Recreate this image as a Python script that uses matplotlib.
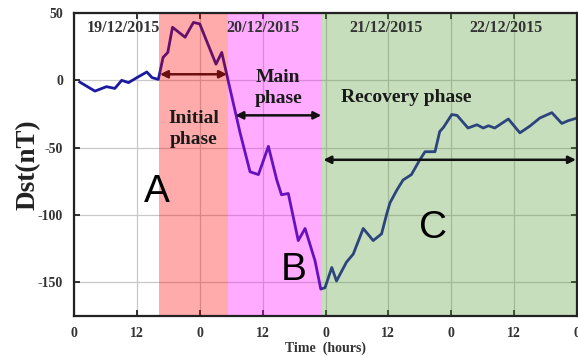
"""
Dst index during the 19-22 December 2015 geomagnetic storm,
with the initial / main / recovery phases shaded.
"""

import matplotlib
matplotlib.use("Agg")
import matplotlib.pyplot as plt

plt.rcParams["axes.unicode_minus"] = False

# ---------------------------------------------------------------------------
# Data (hours from 00 UT on 19/12/2015, Dst in nT)
# ---------------------------------------------------------------------------
hours = [1.1, 4.0, 6.2, 7.8, 9.1, 10.4, 12.0, 13.9, 14.9, 16.1,
         17.0, 17.9, 18.8, 21.2, 22.8, 24.0, 27.1, 28.2, 29.8, 31.7,
         33.6, 35.2, 37.1, 38.7, 39.6, 40.9, 42.8, 44.1, 46.0, 47.1,
         47.9, 49.2, 50.1, 52.0, 53.3, 55.2, 57.1, 58.7, 59.7, 60.3,
         61.6, 62.8, 64.4, 66.0, 67.0, 68.9, 69.8, 70.5, 72.1, 73.1,
         75.2, 76.9, 78.1, 79.1, 80.3, 82.9, 85.1, 87.0, 88.9, 91.2,
         93.1, 94.3, 96.0]
dst = [-1.3, -8.0, -4.7, -6.0, 0.0, -1.7, 2.0, 6.2, 2.0, 0.7,
       17.0, 20.7, 39.4, 32.0, 43.0, 41.9, 12.0, 20.7, -6.7, -39.0,
       -67.9, -70.0, -49.0, -74.0, -85.0, -84.0, -119.0, -110.0, -134.0, -155.0,
       -154.0, -139.0, -149.0, -135.0, -129.0, -110.0, -119.0, -114.0, -99.0, -91.0,
       -81.6, -74.0, -70.0, -59.0, -53.0, -53.0, -38.0, -35.0, -25.4, -26.0,
       -35.4, -33.0, -35.4, -33.7, -35.4, -28.7, -39.0, -34.0, -28.0, -24.0,
       -32.0, -30.0, -28.0]

# phase boundaries (hours)
phase_edges = [16.2, 29.4, 47.4, 96.0]
phase_colors = ["#ff0000", "#ff00ff", "#539b34"]

dates = ["19/12/2015", "20/12/2015", "21/12/2015", "22/12/2015"]
date_x = [9.4, 36.0, 59.5, 82.5]

xticks = [0, 12, 24, 36, 48, 60, 72, 84, 96]
xticklabels = ["0", "12", "0", "12", "0", "12", "0", "12", "0"]
yticks = [50, 0, -50, -100, -150]

SERIF = "Liberation Serif"

# ---------------------------------------------------------------------------
# Figure
# ---------------------------------------------------------------------------
fig = plt.figure(figsize=(5.78, 3.58), dpi=100)
ax = fig.add_axes([74 / 578, 1 - 316 / 358, 503 / 578, 303 / 358])

ax.plot(hours, dst, color="#1a1aa0", lw=2.0, zorder=2)

# shaded phases sit on top of the curve and grid, semi-transparent
for x0, x1, c in zip(phase_edges[:-1], phase_edges[1:], phase_colors):
    ax.axvspan(x0, x1, color=c, alpha=0.33, lw=0, zorder=3)

ax.set_xlim(0, 96)
ax.set_ylim(-175, 50)
ax.set_xticks(xticks)
ax.set_xticklabels(xticklabels)
ax.set_yticks(yticks)
ax.grid(True, color="#c8c8c8", lw=0.9, zorder=1)
ax.set_axisbelow(True)

ax.tick_params(direction="in", top=True, right=True, length=4, width=1.3,
               colors="#222222", labelcolor="#333333", pad=8)
for lab in ax.get_xticklabels() + ax.get_yticklabels():
    lab.set_fontfamily(SERIF)
    lab.set_fontweight("bold")
    lab.set_fontsize(10)
for sp in ax.spines.values():
    sp.set_linewidth(1.6)
    sp.set_color("#222222")
    sp.set_zorder(5)

ax.set_xlabel("Time  (hours)", fontfamily=SERIF, fontweight="bold",
              fontsize=10, color="#333333", labelpad=1)
ax.set_ylabel("Dst(nT)", fontfamily=SERIF, fontweight="bold",
              fontsize=19.5, color="#222222", labelpad=-2)

# date labels along the top
for d, x in zip(dates, date_x):
    ax.text(x, 38.5, d, ha="center", va="center", fontfamily=SERIF,
            fontweight="bold", fontsize=11.5, color="#333333", zorder=6)

# phase names
txt = dict(fontfamily=SERIF, fontweight="bold", fontsize=14,
           color="#1a1a1a", zorder=6)
ax.text(22.8, -36, "Initial\nphase", ha="center", va="center",
        linespacing=1.3, **txt)
ax.text(39.0, -6, "Main\nphase", ha="center", va="center",
        linespacing=1.3, **txt)
ax.text(51.0, -13, "Recovery phase", ha="left", va="center", **txt)

# double-headed arrows spanning each phase
arrow = dict(arrowstyle="<|-|>", mutation_scale=11, lw=1.8, shrinkA=0, shrinkB=0)
ax.annotate("", xy=(16.4, 4.5), xytext=(29.2, 4.5),
            arrowprops=dict(color="#6b0f0f", **arrow), zorder=6)
ax.annotate("", xy=(30.8, -26), xytext=(47.2, -26),
            arrowprops=dict(color="#111111", **arrow), zorder=6)
ax.annotate("", xy=(47.6, -59), xytext=(95.8, -59),
            arrowprops=dict(color="#111111", **arrow), zorder=6)

# event markers
big = dict(fontfamily="Liberation Sans", fontsize=28, color="black",
           ha="center", va="center", zorder=6)
ax.text(15.8, -83, "A", **big)
ax.text(42.0, -141, "B", **big)
ax.text(68.5, -110, "C", **big)

fig.savefig("out.png", dpi=100)
